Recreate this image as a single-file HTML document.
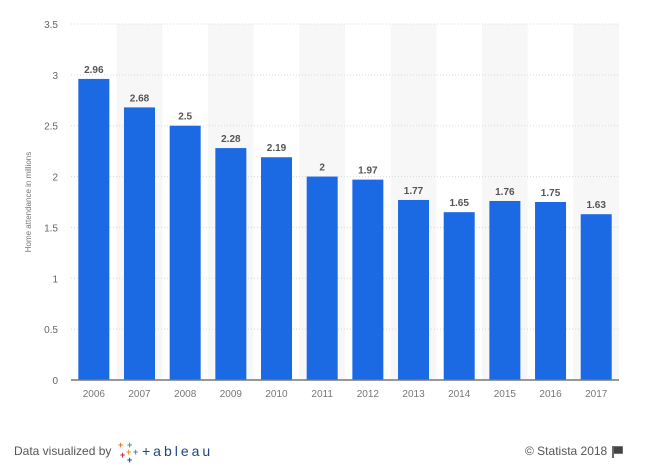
<!DOCTYPE html>
<html><head><meta charset="utf-8"><style>
body{margin:0;background:#fff;width:646px;height:470px;overflow:hidden;font-family:"Liberation Sans",sans-serif}
</style></head><body>
<svg width="646" height="470" xmlns="http://www.w3.org/2000/svg" font-family="Liberation Sans, sans-serif">
<g id="shade" fill="#f7f7f7"></g>
<g id="grid" stroke="#d8d8d8" stroke-dasharray="1,2"></g>
<g id="bars"></g>
<line x1="71" y1="380" x2="619" y2="380" stroke="#777" stroke-width="1.5"/>
<text x="31" y="202" transform="rotate(-90 31 202)" font-size="8" fill="#777" text-anchor="middle">Home attendance in millions</text>
<text x="14" y="455" font-size="12" fill="#555">Data visualized by</text>
<g font-size="9" font-weight="bold">
<text x="118" y="448" fill="#e8762b">+</text><text x="127" y="448" fill="#5b879b">+</text>
<text x="120" y="458" fill="#c72035">+</text><text x="126" y="455" fill="#eb912b">+</text><text x="133" y="455" fill="#59879b">+</text><text x="127" y="463" fill="#1f447e">+</text>
</g>
<text x="142" y="456" font-size="14" fill="#1f447e" letter-spacing="3">+ableau</text>
<text x="525" y="455" font-size="12" fill="#555">© Statista 2018</text>
<path d="M613 446 v12 M614 447 h8 v6 h-8" stroke="#444" stroke-width="1.6" fill="#444"/>
</svg>
<script>
const vals=[2.96,2.68,2.5,2.28,2.19,2,1.97,1.77,1.65,1.76,1.75,1.63];
const ns="http://www.w3.org/2000/svg";
const svg=document.querySelector('svg');
function el(p,t,a,txt){const e=document.createElementNS(ns,t);for(const k in a)e.setAttribute(k,a[k]);if(txt!=null)e.textContent=txt;document.getElementById(p)?document.getElementById(p).appendChild(e):svg.appendChild(e);return e;}
const x0=71,pw=45.67,y0=380,sc=356/3.5;
for(let i=0;i<12;i++){if(i%2==1)el('shade','rect',{x:x0+i*pw,y:24,width:pw,height:356});}
for(let k=0;k<=7;k++){const v=k*0.5,y=y0-v*sc;if(k>0)el('grid','line',{x1:71,x2:619,y1:y,y2:y});
el('bars','text',{x:58,y:y+4,'font-size':10,fill:'#666','text-anchor':'end'},String(v));}
vals.forEach((v,i)=>{const cx=x0+i*pw+pw/2,h=v*sc;
el('bars','rect',{x:cx-15.5,y:y0-h,width:31,height:h,fill:'#1b6ae3'});
el('bars','text',{x:cx,y:y0-h-6,'font-size':10,'font-weight':'bold',fill:'#555','text-anchor':'middle'},String(v));
el('bars','text',{x:cx,y:397,'font-size':10,fill:'#777','text-anchor':'middle'},String(2006+i));});
</script>
</body></html>
